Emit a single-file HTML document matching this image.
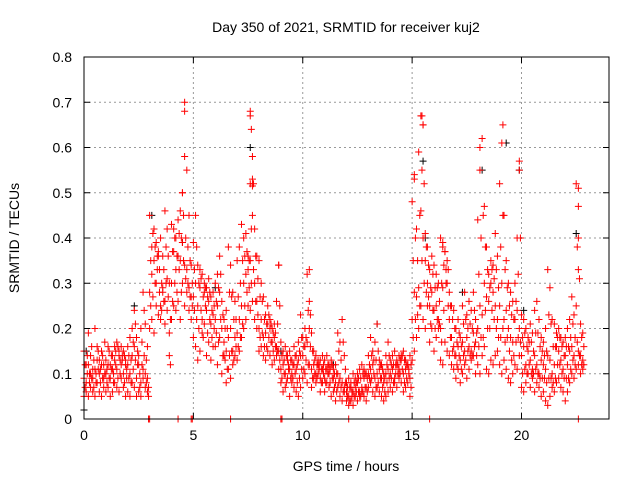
<!DOCTYPE html>
<html><head><meta charset="utf-8"><style>
body{margin:0;background:#fff;}
svg text{font-family:"Liberation Sans",sans-serif;fill:#000;}
</style></head><body>
<svg id="chart" width="640" height="480" xmlns="http://www.w3.org/2000/svg">
<rect width="640" height="480" fill="#fff"/>
<g id="grid"></g><g id="ticks"></g><g id="marks"></g>
<rect x="84" y="57" width="525" height="362" fill="none" stroke="#000" stroke-width="1"/>
<text x="346" y="32" font-size="14" text-anchor="middle">Day 350 of 2021, SRMTID for receiver kuj2</text>
<text x="346" y="471" font-size="14" text-anchor="middle">GPS time / hours</text>
<text transform="translate(19,238) rotate(-90)" font-size="14" text-anchor="middle">SRMTID / TECUs</text>
</svg>
<script>
const xTicks=[0,5,10,15,20];
const yTicks=[0,0.1,0.2,0.3,0.4,0.5,0.6,0.7,0.8];
const yTickLabels=["0","0.1","0.2","0.3","0.4","0.5","0.6","0.7","0.8"];
const times=[0.0,0.1,0.2,0.3,0.4,0.5,0.6,0.7,0.8,0.9,1.0,1.1,1.2,1.3,1.4,1.5,1.6,1.7,1.8,1.9,2.0,2.1,2.2,2.3,2.4,2.5,2.6,2.7,2.8,2.9,3.0,3.1,3.2,3.3,3.4,3.5,3.6,3.7,3.8,3.9,4.0,4.1,4.2,4.3,4.4,4.5,4.6,4.7,4.8,4.9,5.0,5.1,5.2,5.3,5.4,5.5,5.6,5.7,5.8,5.9,6.0,6.1,6.2,6.3,6.4,6.5,6.6,6.7,6.8,6.9,7.0,7.1,7.2,7.3,7.4,7.5,7.6,7.7,7.8,7.9,8.0,8.1,8.2,8.3,8.4,8.5,8.6,8.7,8.8,8.9,9.0,9.1,9.2,9.3,9.4,9.5,9.6,9.7,9.8,9.9,10.0,10.1,10.2,10.3,10.4,10.5,10.6,10.7,10.8,10.9,11.0,11.1,11.2,11.3,11.4,11.5,11.6,11.7,11.8,11.9,12.0,12.1,12.2,12.3,12.4,12.5,12.6,12.7,12.8,12.9,13.0,13.1,13.2,13.3,13.4,13.5,13.6,13.7,13.8,13.9,14.0,14.1,14.2,14.3,14.4,14.5,14.6,14.7,14.8,14.9,15.0,15.1,15.2,15.3,15.4,15.5,15.6,15.7,15.8,15.9,16.0,16.1,16.2,16.3,16.4,16.5,16.6,16.7,16.8,16.9,17.0,17.1,17.2,17.3,17.4,17.5,17.6,17.7,17.8,17.9,18.0,18.1,18.2,18.3,18.4,18.5,18.6,18.7,18.8,18.9,19.0,19.1,19.2,19.3,19.4,19.5,19.6,19.7,19.8,19.9,20.0,20.1,20.2,20.3,20.4,20.5,20.6,20.7,20.8,20.9,21.0,21.1,21.2,21.3,21.4,21.5,21.6,21.7,21.8,21.9,22.0,22.1,22.2,22.3,22.4,22.5,22.6,22.7,22.8];
const lowBand=[.05,.06,.05,.07,.06,.05,.08,.06,.05,.07, .06,.07,.05,.06,.08,.07,.06,.09,.07,.05, .06,.05,.08,.07,.05,.06,.05,.09,.07,.06, .20,.22,.19,.25,.23,.22,.28,.21,.24,.19, .22,.25,.24,.26,.22,.30,.25,.28,.24,.22, .18,.16,.13,.15,.19,.21,.14,.17,.13,.16, .16,.12,.18,.10,.14,.08,.11,.09,.12,.14, .13,.15,.18,.20,.22,.25,.24,.26,.22,.20, .15,.16,.14,.13,.15,.14,.12,.13,.14,.11, .08,.06,.07,.09,.05,.08,.07,.06,.05,.07, .09,.10,.08,.12,.07,.09,.08,.10,.06,.08, .06,.08,.07,.05,.06,.04,.07,.05,.04,.06, .04,.03,.04,.03,.05,.04,.05,.06,.05,.04, .07,.08,.06,.05,.07,.06,.05,.04,.05,.06, .07,.06,.08,.07,.09,.08,.06,.07,.08,.05, .13,.15,.18,.20,.25,.22,.20,.25,.17,.20, .15,.18,.20,.13,.12,.17,.15,.14,.12,.11, .09,.11,.08,.10,.12,.09,.11,.13,.14,.10, .12,.10,.14,.16,.11,.10,.13,.12,.14,.15, .12,.10,.13,.11,.09,.08,.10,.12,.11,.14, .07,.06,.08,.10,.07,.09,.06,.08,.07,.05, .06,.04,.03,.05,.07,.06,.08,.09,.07,.06, .04,.06,.08,.10,.09,.11,.12,.10,.11];
const midBand=[.09,.08,.12,.10,.09,.11,.13,.10,.12,.09, .10,.12,.09,.14,.13,.11,.15,.12,.10,.13, .12,.10,.14,.16,.09,.12,.08,.11,.10,.09, .28,.32,.35,.30,.36,.25,.29,.26,.31,.14, .30,.37,.33,.36,.35,.39,.34,.33,.29,.27, .27,.30,.25,.29,.22,.28,.24,.26,.21,.23, .22,.25,.28,.20,.17,.15,.18,.20,.15,.18, .19,.22,.25,.30,.32,.33,.35,.45,.30,.26, .20,.22,.18,.19,.21,.20,.17,.18,.16,.15, .11,.12,.10,.13,.11,.10,.12,.11,.13,.14, .14,.16,.17,.20,.11,.12,.10,.13,.09,.11, .09,.11,.10,.12,.09,.08,.10,.09,.08,.07, .06,.05,.07,.06,.07,.08,.06,.07,.09,.07, .10,.11,.12,.09,.10,.11,.09,.08,.10,.11, .10,.11,.09,.12,.11,.13,.10,.11,.12,.09, .22,.28,.27,.29,.46,.40,.35,.30,.25,.28, .24,.25,.22,.20,.29,.37,.30,.22,.18,.16, .14,.16,.13,.17,.15,.18,.16,.15,.19,.17, .20,.25,.23,.30,.27,.26,.30,.28,.25,.22, .25,.30,.22,.24,.20,.18,.17,.22,.24,.20, .14,.16,.12,.15,.13,.11,.14,.12,.10,.13, .12,.11,.14,.13,.10,.12,.16,.15,.13,.11, .14,.12,.15,.16,.14,.25,.15,.14,.13];
const highBand=[.15,.12,.19,.14,.11,.20,.16,.13,.15,.12, .13,.16,.12,.11,.16,.17,.14,.16,.15,.12, .16,.18,.20,.24,.18,.14,.20,.28,.21,.16, .45,.38,.42,.39,.37,.40,.36,.46,.42,.30, .43,.42,.40,.44,.46,.50,.58,.55,.45,.34, .39,.45,.34,.33,.32,.30,.29,.31,.27,.28, .30,.32,.36,.26,.22,.24,.38,.34,.28,.26, .35,.38,.43,.40,.41,.36,.52,.58,.42,.36, .35,.30,.27,.23,.25,.22,.20,.21,.26,.34, .17,.15,.16,.14,.15,.13,.16,.14,.17,.23, .18,.20,.32,.26,.19,.15,.14,.12,.13,.14, .13,.14,.12,.13,.11,.12,.19,.17,.22,.14, .08,.09,.08,.10,.09,.10,.11,.12,.11,.10, .14,.18,.15,.17,.21,.13,.12,.10,.14,.17, .13,.14,.15,.13,.14,.14,.15,.13,.12,.14, .48,.54,.42,.59,.67,.65,.41,.38,.33,.36, .34,.32,.30,.40,.39,.37,.35,.28,.25,.24, .20,.22,.18,.25,.28,.23,.26,.24,.28,.22, .44,.55,.62,.47,.38,.32,.35,.34,.41,.36, .52,.61,.45,.35,.30,.28,.26,.30,.40,.55, .23,.22,.20,.18,.21,.19,.24,.26,.22,.18, .17,.20,.33,.29,.22,.21,.19,.20,.18,.17, .18,.20,.22,.27,.23,.52,.47,.21,.19];
const lowMidBand=[.07,.10,.08,.09,.07,.10,.11,.08,.09,.10, .08,.09,.11,.10,.12,.09,.13,.14,.08,.11, .09,.08,.11,.13,.15,.07,.12,.14,.08,.05, .25,.27,.30,.33,.28,.24,.26,.30,.27,.12, .26,.30,.28,.33,.28,.35,.31,.30,.27,.25, .24,.22,.20,.24,.18,.25,.19,.22,.18,.20, .19,.17,.22,.14,.13,.11,.14,.15,.13,.16, .16,.18,.21,.25,.28,.29,.30,.33,.26,.23, .18,.19,.16,.16,.18,.17,.15,.16,.15,.13, .09,.10,.08,.11,.09,.09,.10,.08,.09,.11, .11,.13,.12,.16,.09,.10,.09,.11,.08,.10, .08,.10,.08,.09,.07,.06,.08,.07,.06,.08, .05,.04,.05,.05,.06,.06,.05,.06,.07,.06, .09,.09,.10,.07,.08,.09,.07,.06,.08,.09, .09,.08,.10,.10,.10,.11,.08,.09,.10,.07, .18,.22,.23,.25,.35,.30,.28,.27,.21,.24, .20,.22,.21,.17,.24,.30,.25,.18,.15,.14, .12,.14,.11,.14,.13,.15,.14,.14,.16,.14, .16,.18,.18,.24,.20,.20,.24,.22,.20,.18, .18,.20,.17,.18,.15,.13,.14,.17,.18,.17, .10,.11,.10,.12,.10,.10,.11,.10,.09,.09, .09,.08,.09,.09,.08,.09,.12,.12,.10,.09, .09,.09,.11,.13,.12,.17,.14,.12,.12];
const upperMidBand=[.12,.14,.10,.16,.13,.08,.15,.11,.14,.17, .11,.15,.14,.08,.15,.16,.10,.13,.14,.09, .14,.13,.17,.21,.12,.10,.17,.24,.13,.07, .35,.41,.38,.36,.33,.30,.33,.38,.36,.22, .37,.40,.36,.41,.40,.45,.40,.38,.35,.30, .33,.38,.30,.31,.27,.29,.27,.28,.24,.25, .26,.29,.32,.23,.20,.20,.28,.27,.22,.22, .27,.30,.35,.36,.37,.35,.42,.52,.36,.31, .27,.26,.22,.21,.23,.21,.19,.19,.21,.25, .14,.13,.14,.12,.13,.12,.14,.12,.15,.18, .16,.18,.24,.23,.15,.13,.12,.12,.11,.12, .11,.12,.11,.12,.10,.10,.15,.13,.17,.11, .07,.07,.06,.08,.08,.09,.09,.10,.10,.09, .12,.14,.13,.13,.15,.12,.11,.09,.12,.14, .12,.12,.12,.12,.13,.14,.13,.12,.11,.12, .35,.40,.35,.45,.55,.52,.38,.34,.29,.32, .29,.29,.26,.30,.34,.33,.33,.25,.22,.20, .17,.19,.16,.21,.22,.20,.21,.20,.24,.19, .32,.40,.45,.38,.33,.29,.33,.31,.33,.29, .38,.45,.33,.29,.25,.23,.22,.26,.32,.40, .18,.19,.16,.17,.17,.15,.19,.19,.16,.15, .14,.15,.23,.21,.16,.16,.18,.18,.16,.14, .16,.16,.18,.21,.18,.38,.31,.18,.16];
const extraTimes=[4.6,4.6,7.6,7.6,7.65,15.45,15.5,18.1,19.15,19.9,22.6,22.6,22.6,7.7,7.7,4.5,15.1,10.3,8.9,16.4,2.95,3.0,4.3,4.9,4.95,6.7,9.0,9.05,12.1,15.8,22.6];
const extraValues=[.70,.68,.68,.67,.64,.67,.65,.60,.65,.57,.51,.40,.33,.53,.515,.50,.53,.33,.34,.38,0,0,0,0,0,0,0,0,0,0,0];
const blackTimes=[0.0,0.1,3.1,4.5,7.6,15.5,19.3,19.9,22.5,2.3,6.0,15.6,18.2,17.3,11.4,13.4,9.0,20.1];
const blackValues=[.02,.15,.45,.39,.60,.57,.61,.55,.41,.25,.29,.40,.55,.28,.12,.21,.15,.24];

const X0=84,X1=609,Y0=419,Y1=57;
const xs=t=>X0+(t/24)*(X1-X0);
const ys=v=>Y0-(v/0.8)*(Y0-Y1);
const NS="http://www.w3.org/2000/svg";
const grid=document.getElementById('grid'),ticks=document.getElementById('ticks'),marks=document.getElementById('marks');
function mk(tag,attrs,parent){const e=document.createElementNS(NS,tag);for(const k in attrs)e.setAttribute(k,attrs[k]);parent.appendChild(e);return e;}
xTicks.forEach(t=>{
  const x=xs(t);
  if(t>0){const g=mk('line',{x1:x,x2:x,y1:Y1,y2:Y0,stroke:'#999','stroke-dasharray':'2,3'},grid);
  
  }
  mk('line',{x1:x,x2:x,y1:Y0,y2:Y0-6,stroke:'#000'},ticks);
  mk('line',{x1:x,x2:x,y1:Y1,y2:Y1+6,stroke:'#000'},ticks);
  const l=mk('text',{x:x,y:Y0+21,'font-size':14,'text-anchor':'middle'},ticks);l.textContent=t;
  
  
});
yTicks.forEach((v,i)=>{
  const y=ys(v);
  if(v>0&&v<0.8){const g=mk('line',{x1:X0,x2:X1,y1:y,y2:y,stroke:'#999','stroke-dasharray':'2,3'},grid);
  
  }
  mk('line',{x1:X0,x2:X0+6,y1:y,y2:y,stroke:'#000'},ticks);
  mk('line',{x1:X1,x2:X1-6,y1:y,y2:y,stroke:'#000'},ticks);
  const l=mk('text',{x:X0-12,y:y+5,'font-size':14,'text-anchor':'end'},ticks);l.textContent=yTickLabels[i];
  
  
});
function plus(t,v,color,name){
  const x=xs(t),y=ys(v);
  const p=mk('path',{d:`M${x-3.5} ${y}h7M${x} ${y-3.5}v7`,stroke:color,'stroke-width':1,fill:'none'},marks);
  
  
}
blackTimes.forEach((t,i)=>plus(t,blackValues[i],'#000','black-point'));
[lowBand,midBand,highBand].forEach(arr=>times.forEach((t,i)=>{if(arr[i]!==undefined)plus(t,arr[i],'#f00','red-point');}));
[lowMidBand,upperMidBand].forEach(arr=>times.forEach((t,i)=>{if(arr[i]!==undefined)plus(t+0.05,arr[i],'#f00','red-point');}));
extraTimes.forEach((t,i)=>plus(t,extraValues[i],'#f00','red-point'));
</script>
</body></html>
